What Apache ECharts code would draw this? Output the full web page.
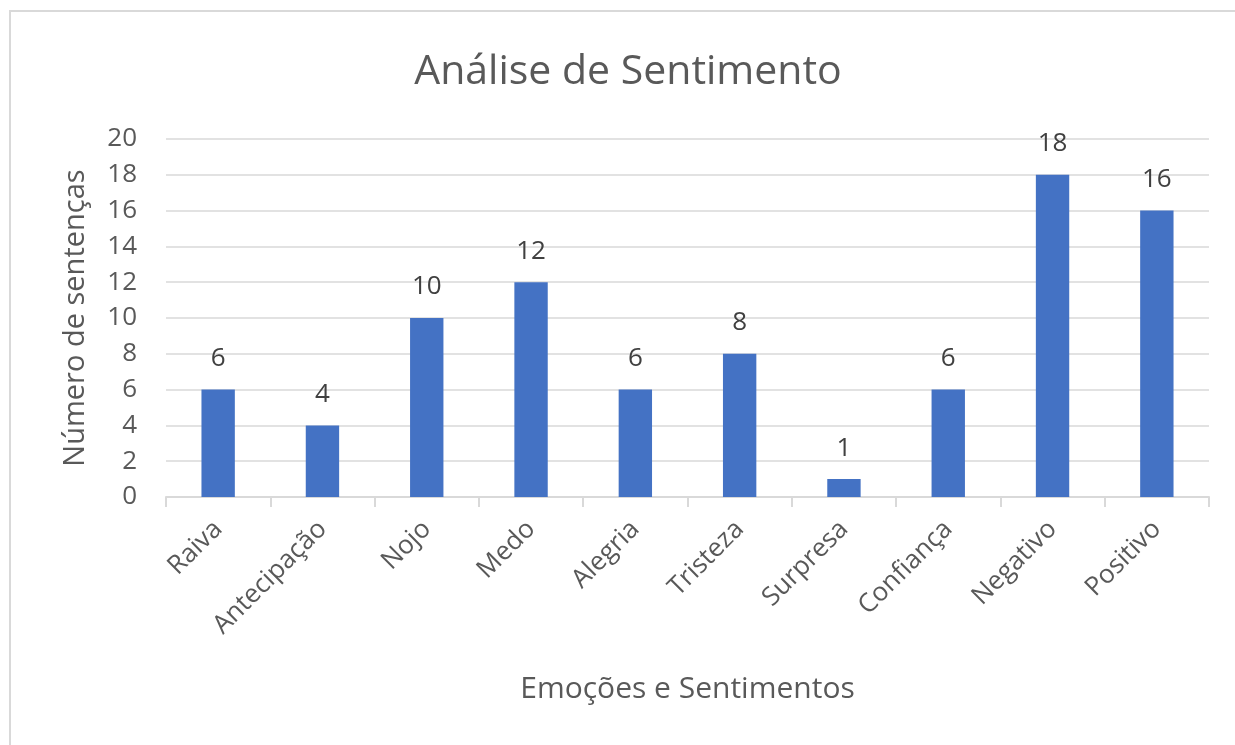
<!DOCTYPE html>
<html>
<head>
<meta charset="utf-8">
<script src="https://cdn.jsdelivr.net/npm/echarts@6/dist/echarts.min.js"></script>
<style>
html,body{margin:0;padding:0;background:#fff;}
#chart{width:1235px;height:745px;}
</style>
</head>
<body>
<div id="chart"></div>
<script>
const categories = ['Raiva','Antecipação','Nojo','Medo','Alegria','Tristeza','Surpresa','Confiança','Negativo','Positivo'];
const values = [6,4,10,12,6,8,1,6,18,16];
const titleText = 'Análise de Sentimento';
const xName = 'Emoções e Sentimentos';
const yName = 'Número de sentenças';

const font = '"Open Sans", "Noto Sans", sans-serif';
const chart = echarts.init(document.getElementById('chart'));
chart.setOption({
  animation: false,
  textStyle: {fontFamily: font},
  graphic: [
    {type:'rect', shape:{x:10, y:11, width:1400, height:900}, style:{fill:'none', stroke:'#d9d9d9', lineWidth:2}, silent:true},
    {type:'text', x:628, y:72, style:{text:titleText, fill:'#595959', font:'41px ' + font, textAlign:'center', textVerticalAlign:'middle'}}
  ],
  grid: {left:166, right:26, top:139, bottom:248},
  xAxis: {
    type:'category',
    data: categories,
    name: xName,
    nameLocation:'middle',
    nameGap: 177,
    nameTextStyle:{color:'#595959', fontSize:30, fontFamily:font},
    axisLine:{lineStyle:{color:'#d9d9d9', width:2}},
    axisTick:{show:true, length:10, lineStyle:{color:'#d9d9d9', width:2}},
    axisLabel:{rotate:45, color:'#595959', fontSize:26, margin:28, fontFamily:font}
  },
  yAxis: {
    type:'value',
    min:0, max:20, interval:2,
    name: yName,
    nameLocation:'middle',
    nameGap: 76,
    nameTextStyle:{color:'#595959', fontSize:29, fontFamily:font},
    axisLine:{show:false},
    axisTick:{show:false},
    axisLabel:{color:'#595959', fontSize:26, margin:29, fontFamily:font},
    splitLine:{lineStyle:{color:'#d9d9d9', width:1.5}}
  },
  series: [{
    type:'bar',
    data: values,
    barWidth:'32%',
    itemStyle:{color:'#4472C4'},
    label:{show:true, position:'top', distance:18, color:'#404040', fontSize:26, fontFamily:font}
  }]
});
</script>
</body>
</html>
